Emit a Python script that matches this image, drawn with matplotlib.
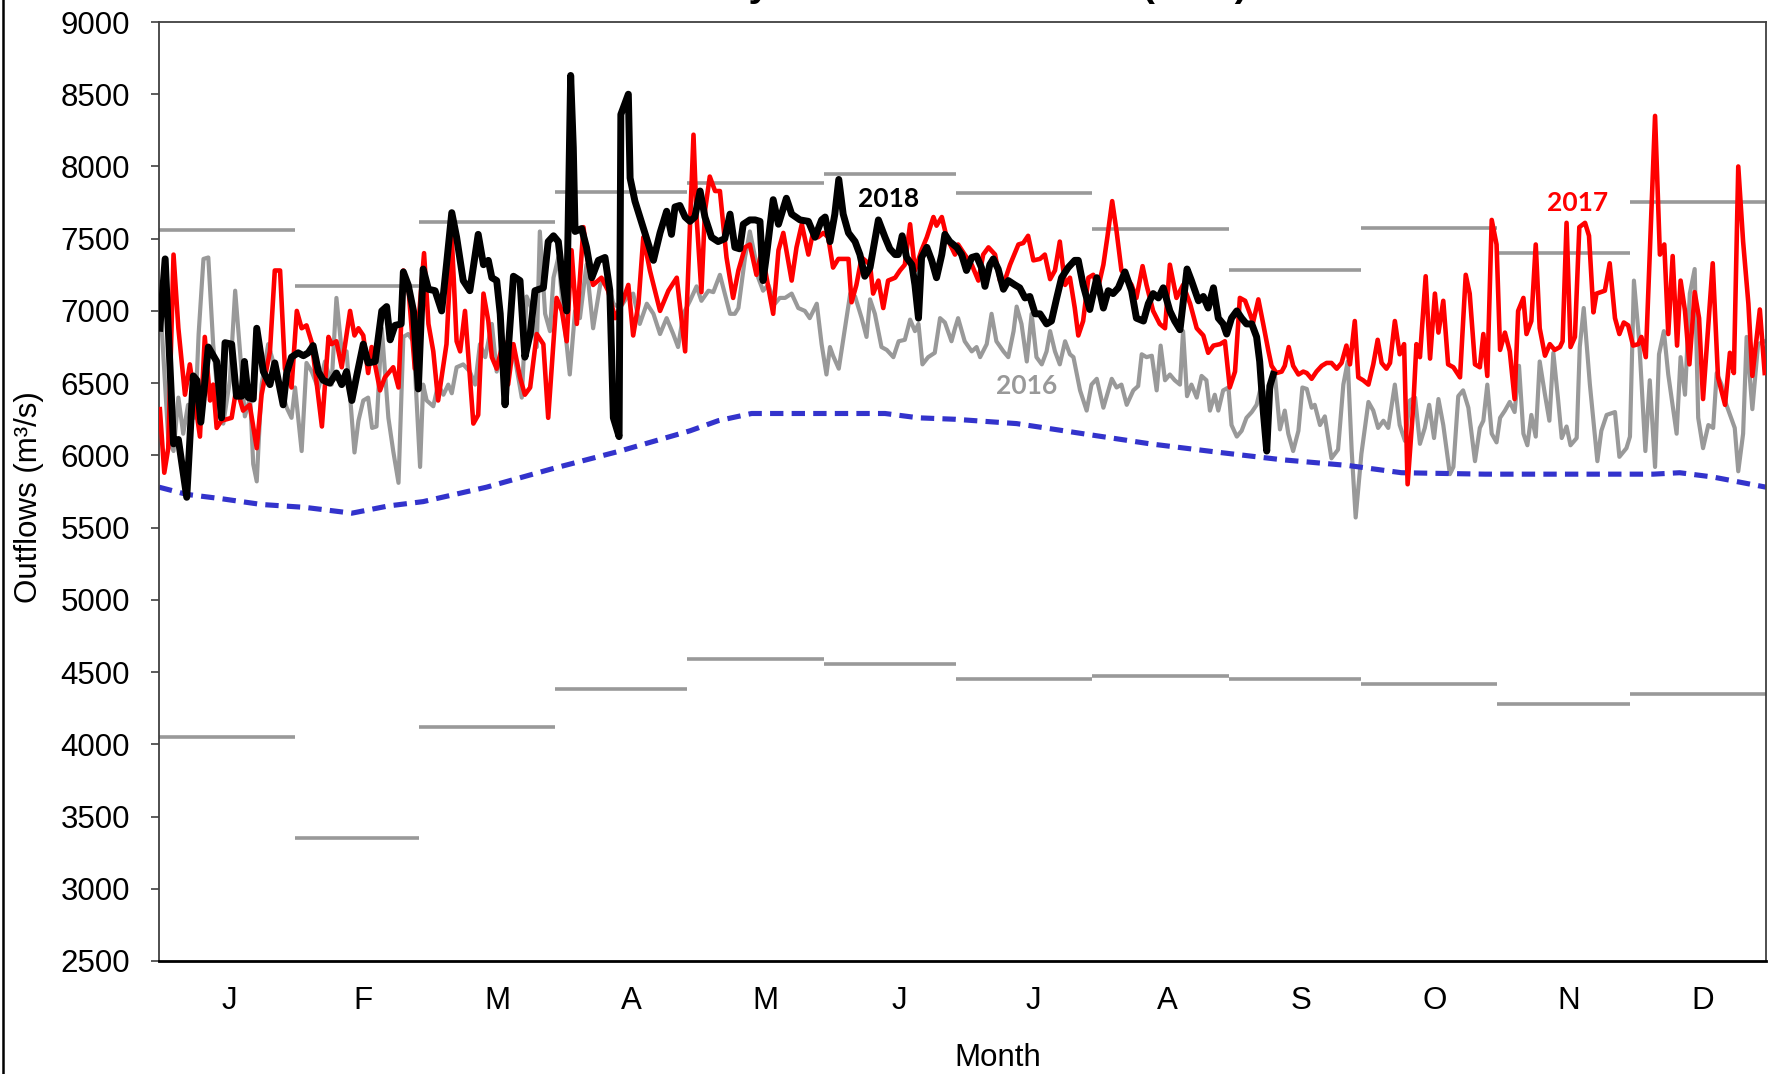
import matplotlib.pyplot as plt
from matplotlib.lines import Line2D

# ---------------------------------------------------------------- data
# day of year (0 = 1 Jan) and daily outflow in m3/s
days_2016 = [0.0, 2.1, 3.3, 4.4, 5.5, 6.6, 8.2, 9.0, 10.1, 11.2, 12.3, 13.5, 14.6, 16.1, 17.3, 18.4, 19.5, 20.7,
             21.4, 22.2, 23.3, 24.8, 26.3, 27.9, 29.0, 30.1, 30.9, 32.4, 33.5, 34.7, 36.2, 37.7, 39.2, 40.3, 41.5,
             42.6, 44.4, 45.3, 46.4, 47.5, 48.4, 49.4, 50.6, 52.1, 53.2, 54.4, 55.5, 56.6, 57.8, 59.3, 60.0, 60.8,
             62.3, 63.4, 64.6, 65.7, 66.5, 67.6, 69.1, 70.6, 71.8, 72.9, 74.1, 75.6, 76.7, 77.8, 79.0, 80.1, 81.2,
             82.4, 83.5, 84.6, 85.8, 86.5, 87.7, 88.8, 89.6, 90.7, 91.8, 93.3, 94.5, 95.6, 97.1, 98.6, 100.2, 101.7,
             103.2, 104.7, 106.2, 107.7, 109.2, 110.8, 112.3, 113.8, 115.3, 116.8, 117.9, 119.1, 120.6, 122.1,
             123.2, 124.8, 125.9, 127.4, 128.5, 129.7, 130.8, 131.6, 133.1, 134.2, 135.4, 136.1, 137.2, 138.4,
             139.9, 141.0, 142.2, 143.7, 145.2, 146.7, 147.8, 149.4, 150.5, 151.6, 152.4, 153.1, 154.4, 155.8,
             157.0, 158.1, 159.6, 160.7, 161.5, 162.6, 164.1, 165.3, 166.8, 168.0, 169.4, 170.6, 171.7, 172.5,
             173.4, 174.7, 176.2, 177.4, 178.5, 180.0, 180.8, 181.5, 183.0, 184.6, 185.7, 186.5, 188.0, 189.1,
             190.2, 191.8, 192.9, 194.1, 194.8, 195.9, 197.1, 198.2, 199.3, 200.5, 201.6, 202.4, 203.5, 204.6,
             205.8, 206.9, 207.7, 209.2, 210.7, 211.8, 213.0, 214.5, 216.4, 217.5, 218.6, 219.8, 221.3, 222.4,
             223.2, 224.3, 225.5, 226.6, 227.5, 228.5, 229.6, 230.7, 231.9, 232.6, 233.5, 234.5, 235.7, 236.8,
             237.9, 238.7, 239.8, 240.6, 241.7, 242.9, 243.6, 244.8, 245.9, 247.0, 248.2, 249.3, 250.4, 251.6,
             253.5, 254.6, 255.7, 256.5, 257.6, 258.8, 259.7, 260.7, 261.8, 262.5, 263.7, 264.8, 266.3, 267.8,
             269.0, 270.0, 270.9, 271.8, 273.1, 274.7, 275.8, 276.9, 278.1, 279.2, 280.7, 281.8, 283.0, 284.1,
             285.3, 286.4, 287.5, 288.5, 289.6, 290.6, 291.7, 293.2, 294.0, 295.1, 296.2, 297.4, 298.9, 300.0,
             300.8, 301.7, 302.7, 303.8, 304.6, 305.7, 306.8, 307.9, 308.9, 309.9, 310.8, 311.7, 312.7, 313.6,
             314.8, 315.8, 316.7, 317.8, 318.6, 319.7, 320.6, 322.0, 322.7, 323.6, 325.0, 326.7, 327.6, 328.8,
             330.7, 331.7, 333.3, 334.1, 335.0, 336.2, 337.6, 338.6, 339.8, 340.7, 341.8, 342.8, 344.7, 345.6,
             346.6, 347.7, 348.8, 349.6, 350.7, 351.9, 353.0, 353.8, 354.9, 356.0, 357.9, 358.7, 359.8, 360.6,
             361.9, 363.2, 364.7]
flow_2016 = [7200, 6120, 6030, 6400, 6150, 6350, 6260, 6840, 7360, 7370, 6770, 6350, 6220, 6520, 7140, 6720, 6270, 6400,
             5940, 5820, 6490, 6770, 6610, 6450, 6330, 6260, 6470, 6030, 6640, 6580, 6460, 6650, 6490, 7090, 6720,
             6720, 6020, 6240, 6380, 6400, 6190, 6200, 6880, 6260, 6030, 5810, 6820, 6840, 6790, 5920, 6490, 6380,
             6340, 6490, 6420, 6490, 6430, 6610, 6630, 6580, 6490, 6770, 6680, 6910, 6580, 6720, 6490, 6770, 6610,
             6400, 7100, 7020, 6750, 7550, 6980, 6860, 7230, 7370, 7000, 6560, 7000, 6950, 7320, 6880, 7180, 7230,
             7050, 7020, 7090, 7120, 6910, 7050, 6980, 6840, 6950, 6840, 6750, 6980, 7070, 7170,
             7070, 7140, 7130, 7250, 7120, 6980, 6980, 7020, 7370, 7550, 7370, 7230, 7140, 7180,
             7050, 7090, 7090, 7120, 7020, 7000, 6950, 7050, 6770, 6560, 6750, 6690, 6600, 6880,
             7120, 7100, 6950, 6820, 7080, 6980, 6750, 6730, 6680, 6790, 6800, 6940, 6860, 6910,
             6630, 6680, 6710, 6950, 6920, 6790, 6880, 6950, 6790, 6720, 6750, 6680, 6770, 6980,
             6790, 6720, 6680, 6860, 7030, 6910, 6650, 6980, 6680, 6630, 6720, 6860, 6720, 6630,
             6790, 6700, 6680, 6450, 6310, 6490, 6530, 6330, 6530, 6470, 6490, 6350, 6450, 6480,
             6700, 6680, 6690, 6450, 6760, 6520, 6560, 6520, 6490, 6860, 6410, 6490, 6400, 6550,
             6520, 6310, 6420, 6310, 6450, 6470, 6210, 6130, 6170, 6260, 6300, 6350, 6490, 6380,
             6540, 6180, 6310, 6150, 6030, 6170, 6470, 6460, 6330, 6350, 6210, 6270, 5980, 6040,
             6490, 6650, 6030, 5570, 6010, 6370, 6310, 6190, 6240, 6190, 6490, 6210, 6100, 6380,
             6400, 6080, 6190, 6350, 6120, 6390, 6210, 5870, 5920, 6410, 6450, 6330, 5960, 6190,
             6240, 6490, 6150, 6090, 6260, 6310, 6370, 6300, 6620, 6150, 6070, 6280, 6130, 6650,
             6420, 6240, 6710, 6380, 6120, 6200, 6070, 6120, 6750, 7020, 6490, 5960, 6170, 6280,
             6300, 5990, 6050, 6130, 7210, 6790, 6030, 6520, 5920, 6700, 6860, 6560, 6150, 6680,
             6420, 7120, 7290, 6260, 6050, 6210, 6190, 6570, 6490, 6350, 6190, 5890, 6150, 6820,
             6320, 6770, 6790]

days_2017 = [0.2, 1.2, 2.1, 3.3, 4.4, 5.9, 7.0, 9.3, 10.4, 11.6, 12.3, 13.1, 14.2, 16.5, 17.6, 19.1, 20.6, 22.2,
             23.3, 25.2, 26.3, 27.5, 28.6, 30.1, 31.3, 32.4, 33.5, 34.7, 37.0, 38.5, 39.2, 40.3, 41.5, 43.4, 44.4,
             45.3, 46.4, 47.5, 48.3, 50.2, 51.3, 53.2, 54.4, 55.5, 56.6, 58.1, 60.2, 61.2, 62.3, 63.4, 65.3, 66.5,
             67.6, 68.4, 69.5, 71.4, 72.5, 73.7, 74.8, 75.6, 76.7, 78.2, 79.3, 80.5, 82.0, 83.1, 84.3, 85.8, 87.3,
             88.4, 90.3, 91.5, 92.6, 93.7, 94.9, 96.4, 97.5, 98.6, 100.5, 102.0, 103.6, 105.1, 106.6, 107.7, 108.9,
             110.0, 111.5, 113.8, 115.7, 117.6, 119.5, 121.4, 122.1, 123.2, 124.0, 125.1, 126.3, 127.4, 128.9,
             130.4, 131.6, 133.1, 134.2, 135.7, 136.9, 138.0, 139.5, 140.7, 141.8, 143.7, 144.8, 146.0, 147.5,
             148.6, 149.7, 150.9, 152.0, 153.1, 154.3, 156.6, 157.3, 158.4, 159.6, 161.5, 162.2, 163.4, 164.5,
             165.6, 167.2, 168.3, 169.4, 170.6, 171.7, 173.2, 174.4, 175.9, 176.6, 177.8, 178.9, 180.8, 181.5,
             183.0, 184.6, 186.1, 187.2, 188.4, 189.9, 191.0, 192.1, 193.3, 195.2, 196.3, 197.4, 198.6, 200.1,
             201.2, 202.4, 203.5, 204.6, 205.8, 206.9, 208.0, 208.8, 209.9, 211.1, 212.2, 213.3, 214.5, 215.4,
             216.5, 217.5, 218.6, 219.8, 220.9, 222.0, 223.4, 224.3, 225.8, 227.3, 228.5, 229.6, 231.1, 232.6,
             234.2, 235.7, 237.2, 238.3, 239.5, 241.0, 242.1, 243.2, 244.4, 245.5, 246.7, 247.8, 248.5, 249.7,
             250.8, 252.0, 252.7, 253.8, 255.0, 255.7, 256.6, 257.6, 258.8, 259.9, 260.7, 261.8, 262.9, 264.1,
             265.2, 266.3, 267.5, 268.6, 269.7, 270.5, 271.6, 272.4, 273.5, 274.7, 275.8, 276.8, 277.7, 278.8,
             279.6, 280.7, 281.8, 282.8, 283.6, 284.9, 285.6, 286.4, 287.7, 288.7, 289.8, 290.6, 291.7, 292.8,
             294.0, 295.5, 296.8, 297.7, 298.9, 300.0, 300.8, 301.7, 302.7, 303.8, 304.6, 305.7, 306.8, 307.9,
             308.7, 309.9, 310.6, 311.7, 312.7, 313.6, 314.8, 315.9, 317.0, 318.2, 318.8, 319.7, 320.6, 321.6,
             322.6, 323.9, 324.8, 325.8, 326.5, 328.4, 329.5, 330.7, 331.7, 332.7, 333.7, 334.8, 336.0, 336.7,
             337.7, 339.8, 340.9, 341.9, 342.8, 343.8, 344.8, 345.6, 346.6, 347.6, 348.8, 349.8, 350.7, 352.9,
             354.1, 355.7, 356.8, 357.7, 358.7, 359.8, 361.0, 361.9, 363.6, 364.7]
flow_2017 = [6320, 5880, 6050, 7390, 6880, 6420, 6630, 6130, 6820, 6380, 6490, 6190, 6240, 6260, 6470, 6310, 6350, 6050,
             6420, 6720, 7280, 7280, 6600, 6470, 7000, 6880, 6900, 6780, 6200, 6820, 6770, 6790, 6610, 7000, 6830,
             6880, 6830, 6570, 6750, 6450, 6540, 6610, 6470, 7280, 7180, 6600, 7400, 6910, 6720, 6380, 6770, 7510,
             6790, 6720, 7000, 6220, 6280, 7120, 6930, 6680, 6600, 6790, 6490, 6770, 6540, 6420, 6470, 6840, 6770,
             6260, 7090, 7000, 6790, 7420, 6910, 7580, 7320, 7180, 7230, 7140, 6950, 7050, 7180, 6830, 7050,
             7510, 7280, 7000, 7140, 7230, 6720, 8220, 7650, 7130, 7690, 7930, 7830, 7830, 7370,
             7090, 7280, 7440, 7460, 7250, 7420, 7230, 6980, 7420, 7540, 7210, 7440, 7600, 7390,
             7550, 7510, 7540, 7510, 7300, 7360, 7360, 7060, 7180, 7370, 7320, 7120, 7210, 7020,
             7210, 7230, 7280, 7320, 7600, 7280, 7420, 7510, 7650, 7590, 7650, 7510, 7390, 7460,
             7390, 7320, 7210, 7390, 7440, 7390, 7210, 7210, 7320, 7460, 7470, 7520, 7350, 7360,
             7390, 7220, 7280, 7480, 7180, 7230, 7020, 6830, 6930, 7230, 7250, 7160, 7320, 7510,
             7760, 7550, 7280, 7230, 7180, 7090, 7310, 7180, 7000, 6910, 6880, 7320, 7090, 7180,
             7050, 6880, 6830, 6710, 6760, 6770, 6790, 6470, 6580, 7090, 7070, 6980, 6920, 7080,
             6910, 6720, 6620, 6570, 6580, 6620, 6750, 6620, 6560, 6580, 6570, 6530, 6580, 6620,
             6640, 6640, 6600, 6640, 6760, 6630, 6930, 6540, 6520, 6490, 6630, 6800, 6640, 6600,
             6640, 6930, 6700, 6770, 5800, 6350, 6770, 6680, 7240, 6670, 7120, 6850, 7070, 6630,
             6610, 6540, 7250, 7120, 6630, 6610, 6840, 6550, 7630, 7460, 6730, 6850, 6720, 6390,
             7000, 7090, 6840, 6930, 7460, 6880, 6690, 6770, 6730, 6750, 6790, 7610, 6750, 6820,
             7580, 7610, 7520, 6990, 7120, 7140, 7330, 6950, 6840, 6920, 6900, 6760, 6770, 6820,
             6680, 8350, 7390, 7460, 6840, 7380, 6760, 7210, 7000, 6630, 7130, 6950, 6390, 7330,
             6540, 6350, 6710, 6570, 8000, 7480, 7050, 6550, 7010, 6570]

days_2018 = [0.2, 1.4, 2.1, 3.3, 4.4, 6.3, 7.8, 8.6, 9.5, 11.2, 13.1, 14.2, 15.0, 16.5, 17.6, 18.8, 19.4, 20.3,
             21.4, 22.2, 23.7, 25.2, 26.3, 28.2, 29.0, 30.1, 31.6, 32.8, 33.9, 35.0, 36.2, 37.3, 38.8, 40.3, 41.5,
             42.6, 43.8, 44.9, 46.4, 47.5, 49.1, 50.6, 51.7, 52.5, 53.6, 55.0, 55.5, 56.6, 57.8, 58.9, 60.0, 61.2,
             62.7, 64.2, 65.3, 66.5, 67.6, 69.1, 70.6, 72.5, 73.7, 74.8, 75.6, 76.7, 77.5, 78.6, 79.3, 80.5, 82.0,
             83.1, 84.3, 85.4, 87.3, 88.4, 89.6, 90.7, 91.8, 92.6, 93.5, 94.1, 94.5, 96.0, 97.1, 98.3, 99.8, 101.3,
             102.4, 103.2, 104.5, 104.9, 106.6, 107.0, 108.1, 112.3, 113.8, 115.3, 116.4, 117.2, 118.3, 119.5,
             120.6, 121.7, 122.9, 124.0, 125.5, 127.0, 128.5, 129.7, 130.8, 131.9, 132.7, 134.2, 135.4, 136.5,
             137.2, 138.0, 139.5, 140.7, 142.5, 143.7, 145.6, 147.5, 149.0, 150.5, 151.3, 152.4, 153.5, 154.4,
             155.4, 156.6, 158.1, 159.2, 160.3, 161.5, 163.4, 164.9, 166.0, 167.2, 167.9, 168.8, 169.8, 171.0,
             171.7, 172.5, 173.2, 174.4, 175.5, 176.6, 177.8, 178.5, 179.6, 181.2, 182.3, 183.4, 184.6, 185.7,
             186.8, 187.6, 188.7, 189.5, 190.6, 191.8, 192.9, 194.4, 195.5, 196.7, 197.8, 199.0, 200.1, 201.6,
             202.7, 203.9, 205.0, 206.5, 208.0, 208.8, 209.9, 211.4, 213.0, 214.5, 215.6, 216.7, 217.9, 219.4,
             220.9, 222.0, 223.6, 224.7, 225.8, 227.0, 228.1, 229.6, 230.7, 231.9, 233.5, 234.5, 236.1, 237.2,
             238.3, 239.5, 240.6, 241.7, 242.5, 243.6, 244.8, 245.9, 247.0, 248.2, 249.3, 250.0, 250.8, 251.6,
             252.3, 253.1]
flow_2018 = [6880, 7360, 6880, 6080, 6110, 5710, 6550, 6520, 6230, 6750, 6650, 6260, 6780, 6770, 6410, 6410, 6650, 6400,
             6390, 6880, 6580, 6490, 6640, 6350, 6570, 6680, 6710, 6690, 6710, 6760, 6580, 6520, 6500, 6570, 6490,
             6580, 6380, 6550, 6770, 6640, 6650, 7000, 7030, 6800, 6900, 6910, 7270, 7180, 7000, 6460, 7290, 7150,
             7140, 7000, 7320, 7680, 7510, 7210, 7140, 7530, 7320, 7350, 7230, 7210, 6980, 6350, 6720, 7240, 7210,
             6680, 6840, 7140, 7160, 7480, 7520, 7480, 7180, 7000, 8630, 8130, 7550, 7570, 7440, 7230, 7350, 7370,
             7140, 6260, 6130, 8360, 8500, 7920, 7760, 7350, 7540, 7690, 7530, 7720, 7730, 7650,
             7620, 7650, 7830, 7650, 7510, 7480, 7500, 7670, 7440, 7430, 7600, 7630, 7630, 7620,
             7210, 7390, 7770, 7600, 7780, 7670, 7630, 7620, 7510, 7630, 7650, 7480, 7670, 7910,
             7670, 7540, 7480, 7390, 7240, 7300, 7630, 7510, 7430, 7390, 7390, 7520, 7370, 7320,
             7180, 6950, 7370, 7440, 7350, 7230, 7390, 7530, 7480, 7440, 7390, 7280, 7370, 7380,
             7300, 7170, 7320, 7360, 7290, 7150, 7210, 7180, 7160, 7090, 7100, 6980, 6980, 6910,
             6930, 7090, 7230, 7300, 7350, 7350, 7180, 7010, 7230, 7020, 7140, 7120, 7160, 7270,
             7140, 6950, 6930, 7050, 7120, 7090, 7160, 7000, 6930, 6870, 7290, 7210, 7070, 7100,
             7020, 7160, 6950, 6910, 6840, 6950, 7000, 6950, 6910, 6910, 6820, 6650, 6310, 6030,
             6480, 6560]

# long-term average outflow
days_avg = [0, 6.3, 14.2, 23.3, 33.2, 43.8, 52.1, 60, 74.4, 89.6, 104.7, 120.6, 127, 134.6, 149.7, 164.9, 172.5,
            180.8, 194.8, 209.9, 225.1, 241, 255, 270.1, 282.2, 301.2, 339.4, 345.4, 353, 365]
flow_avg = [5780, 5730, 5700, 5660, 5640, 5600, 5650, 5680, 5780, 5910, 6030, 6170, 6240, 6290, 6290, 6290, 6260,
            6250, 6220, 6150, 6080, 6020, 5970, 5930, 5880, 5870, 5870, 5880, 5850, 5780]

# monthly record maximum / minimum
month_days = [31, 28, 31, 30, 31, 30, 31, 31, 30, 31, 30, 31]
month_labels = ['J', 'F', 'M', 'A', 'M', 'J', 'J', 'A', 'S', 'O', 'N', 'D']
month_max = [7560, 7170, 7615, 7825, 7885, 7950, 7815, 7565, 7285, 7575, 7400, 7755]
month_min = [4050, 3350, 4120, 4380, 4590, 4555, 4450, 4475, 4450, 4415, 4280, 4350]

# ---------------------------------------------------------------- plot
plt.rcParams['font.family'] = ['Liberation Sans', 'DejaVu Sans']

fig = plt.figure(figsize=(17.68, 10.74), dpi=100)
ax = fig.add_axes([159 / 1768, 1 - 961 / 1074, 1607 / 1768, 939 / 1074])

starts = [sum(month_days[:i]) for i in range(12)]
ends = [s + d for s, d in zip(starts, month_days)]
# category labels sit in twelve equal slots along the axis
label_pos = [(i + 0.5) * 365 / 12 + 0.8 for i in range(12)]

grey = '#999999'
ax.hlines(month_max, starts, ends, color=grey, lw=2.6, zorder=1)
ax.hlines(month_min, starts, ends, color=grey, lw=2.6, zorder=1)

ax.plot(days_2016, flow_2016, color=grey, lw=3.0, solid_joinstyle='round', zorder=2)
ax.plot(days_avg, flow_avg, color='#3333cc', lw=3.7, ls=(0, (2.6, 1.6)), zorder=2.5)
ax.plot(days_2017, flow_2017, color='#ff0000', lw=3.3, solid_joinstyle='round', zorder=3)
ax.plot(days_2018, flow_2018, color='black', lw=5.0, solid_joinstyle='round', zorder=4)

lab = dict(fontfamily='Lato', fontweight='bold', fontsize=19, ha='center', va='center', zorder=5)
ax.text(165.8, 7775, '2018', color='black', **lab)
ax.text(197.1, 6480, '2016', color=grey, **lab)
ax.text(322.3, 7750, '2017', color='#ff0000', **lab)

ax.set_xlim(0, 365)
ax.set_ylim(2500, 9000)
ax.set_yticks(range(2500, 9001, 500))
ax.set_xticks(label_pos)
ax.set_xticklabels(month_labels)
ax.tick_params(axis='x', length=0, pad=18, labelsize=22.5)
ax.tick_params(axis='y', length=6, width=1.2, pad=15, labelsize=22.5, color='#404040', direction='out')

for side in ['left', 'top', 'right']:
    ax.spines[side].set_color('#404040')
    ax.spines[side].set_linewidth(1.3)
ax.spines['bottom'].set_color('black')
ax.spines['bottom'].set_linewidth(2)

ax.set_xlabel('Month', fontsize=22.5)
ax.xaxis.set_label_coords(0.522, -0.087)
ax.set_ylabel('Outflows (m³/s)', fontsize=22.5)
ax.yaxis.set_label_coords(-0.0715, 0.494)

# chart title sits above the top edge of the image
fig.text(1248 / 1768, 1 + 4 / 1074, 'Daily Lake Erie Outflows (m³/s)', ha='right', va='baseline',
         fontsize=28, fontweight='bold')

# frame line along the left edge
fig.add_artist(Line2D([3 / 1768, 3 / 1768], [0, 1], color='black', lw=1.8, transform=fig.transFigure))

fig.savefig('out.png', dpi=100)
